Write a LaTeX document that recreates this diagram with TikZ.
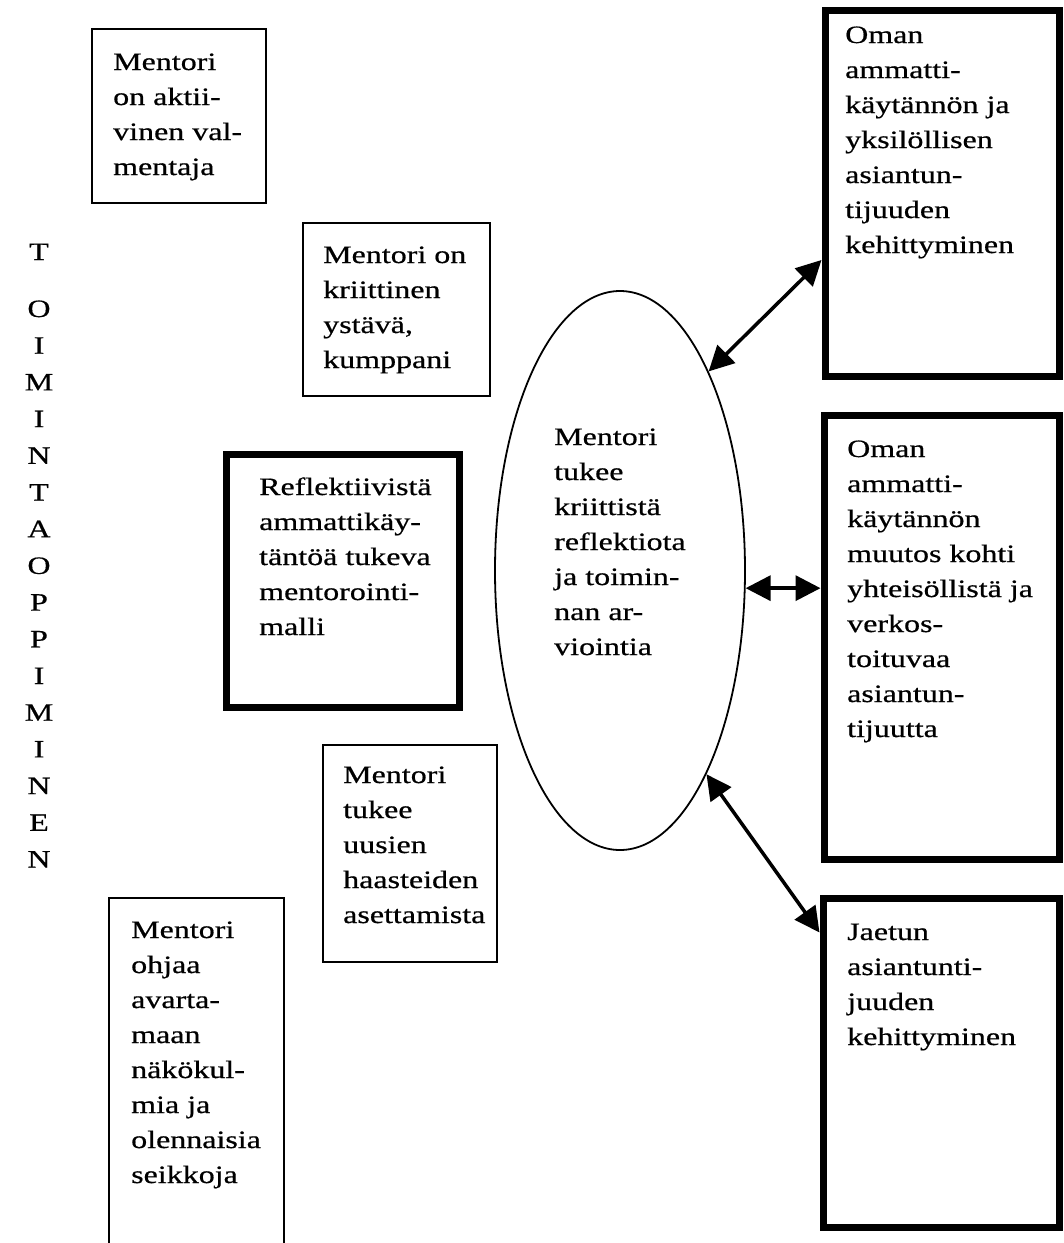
\documentclass[tikz,border=0pt]{standalone}
\usepackage{fontspec}
\setmainfont{Liberation Serif}[FakeStretch=1.28,FakeBold=0.6]
\usetikzlibrary{shapes.geometric,arrows.meta}
\begin{document}
\begin{tikzpicture}[x=1pt,y=-1pt,
  thinbox/.style={draw,line width=2pt,inner sep=0pt},
  thickbox/.style={draw,line width=7pt,inner sep=0pt},
  % multi-line texts are placed by the baseline of their last line
  txt/.style={align=left,anchor=base west,inner sep=0pt,font=\fontsize{25}{35}\selectfont},
  link/.style={line width=3.5pt,{Triangle[length=25pt,width=25pt]}-{Triangle[length=25pt,width=25pt]}}]
\clip (0,0) rectangle (1064,1243);
\fill[white] (0,0) rectangle (1064,1243);

% left column of mentor roles
\node[thinbox,minimum width=174pt,minimum height=174pt] (aktiivi) at (179,116) {};
\node[txt] (aktiivit) at (113,175) {Mentori\\on aktii-\\vinen val-\\mentaja};

\node[thinbox,minimum width=187pt,minimum height=173pt] (ystava) at (396.5,309.5) {};
\node[txt] (ystavat) at (323,368) {Mentori on\\kriittinen\\ystävä,\\kumppani};

\node[thickbox,minimum width=233pt,minimum height=253pt] (malli) at (342.5,580.5) {};
\node[txt] (mallit) at (259,635) {Reflektiivistä\\ammattikäy-\\täntöä tukeva\\mentorointi-\\malli};

\node[thinbox,minimum width=174pt,minimum height=217pt] (haaste) at (410,853.5) {};
\node[txt] (haastet) at (343,923) {Mentori\\tukee\\uusien\\haasteiden\\asettamista};

\node[thinbox,minimum width=175pt,minimum height=362pt] (avarta) at (196.5,1079) {};
\node[txt] (avartat) at (131,1183) {Mentori\\ohjaa\\avarta-\\maan\\näkökul-\\mia ja\\olennaisia\\seikkoja};

% vertical caption
\node[align=center,anchor=base,inner sep=0pt,font=\fontsize{25}{36.7}\selectfont] (toiminta) at (39,867.5)
  {T\\[20.3pt]O\\I\\M\\I\\N\\T\\A\\O\\P\\P\\I\\M\\I\\N\\E\\N};

% central ellipse
\node[draw,ellipse,line width=1.8pt,minimum width=250pt,minimum height=559pt,inner sep=0pt] (ell) at (620,570.5) {};
\node[txt] (ellt) at (554,655) {Mentori\\tukee\\kriittistä\\reflektiota\\ja toimin-\\nan ar-\\viointia};

% outcomes on the right
\node[thickbox,minimum width=234pt,minimum height=366pt] (omanA) at (942,193) {};
\node[txt] (omanAt) at (845,253) {Oman\\ammatti-\\käytännön ja\\yksilöllisen\\asiantun-\\tijuuden\\kehittyminen};

\node[thickbox,minimum width=235pt,minimum height=444pt] (omanB) at (941.5,637) {};
\node[txt] (omanBt) at (847,737) {Oman\\ammatti-\\käytännön\\muutos kohti\\yhteisöllistä ja\\verkos-\\toituvaa\\asiantun-\\tijuutta};

\node[thickbox,minimum width=236pt,minimum height=329pt] (jaetun) at (941,1062.5) {};
\node[txt] (jaetunt) at (847,1045) {Jaetun\\asiantunti-\\juuden\\kehittyminen};

% two-way links
\draw[link] (ell.66.4) -- ([yshift=119.5pt]omanA.south west);
\draw[link] (ell.-8.66) -- (ell.-8.66 -| omanB.west);
\draw[link] (ell.-67.5) -- ([yshift=-38pt]jaetun.north west);
\end{tikzpicture}
\end{document}
